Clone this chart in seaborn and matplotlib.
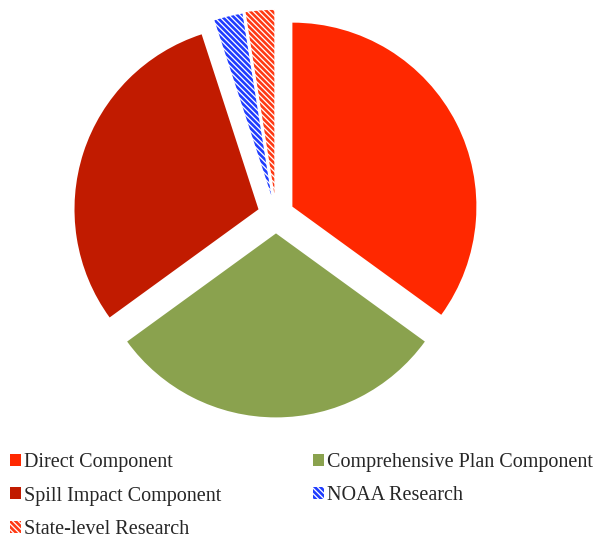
import matplotlib
matplotlib.use("Agg")
import matplotlib.pyplot as plt
import matplotlib.patches as mpatches
import seaborn as sns

labels = ['Direct Component', 'Comprehensive Plan Component', 'Spill Impact Component',
          'NOAA Research', 'State-level Research']
shares = [35, 30, 30, 2.5, 2.5]
colors = ['#ff2800', '#8aa24e', '#c11b00', '#1f3cff', '#ff3a14']
hatched = [False, False, False, True, True]
explode = [0.1, 0.1, 0.1, 0.11, 0.115]
HATCH = '\\' * 6

sns.set_style('white')
plt.rcParams['font.family'] = ['Liberation Serif', 'DejaVu Serif']
plt.rcParams['hatch.linewidth'] = 1.9

fig = plt.figure(figsize=(6.04, 5.39), dpi=100)
# axes covers the upper 440 px of the figure
ax = fig.add_axes([0, 99 / 539, 1, 440 / 539])

wedges, _ = ax.pie(shares, startangle=90, counterclock=False, explode=explode,
                   radius=1, colors=colors, wedgeprops=dict(linewidth=0))
for w, c, h in zip(wedges, colors, hatched):
    if h:
        w.set_facecolor('white')
        w.set_edgecolor(c)
        w.set_hatch(HATCH)

R = 184.0
cx, cy = 276.0, 215.0
ax.set_xlim(-cx / R, (604 - cx) / R)
ax.set_ylim(-(440 - cy) / R, cy / R)
ax.set_aspect('auto')
ax.axis('off')

handles = []
for c, h, l in zip(colors, hatched, labels):
    if h:
        handles.append(mpatches.Patch(facecolor='white', edgecolor=c, hatch=HATCH,
                                      linewidth=0, label=l))
    else:
        handles.append(mpatches.Patch(facecolor=c, linewidth=0, label=l))

order = [0, 2, 4, 1, 3]
fig.legend([handles[i] for i in order], [labels[i] for i in order],
           loc='upper left', bbox_to_anchor=(10 / 604, 1 - 453 / 539), ncol=2,
           frameon=False, fontsize=14.5, handlelength=0.55, handleheight=0.55,
           handletextpad=0.15, labelspacing=0.72, columnspacing=4.55,
           borderaxespad=0, borderpad=0)

fig.savefig('out.png', dpi=100)
